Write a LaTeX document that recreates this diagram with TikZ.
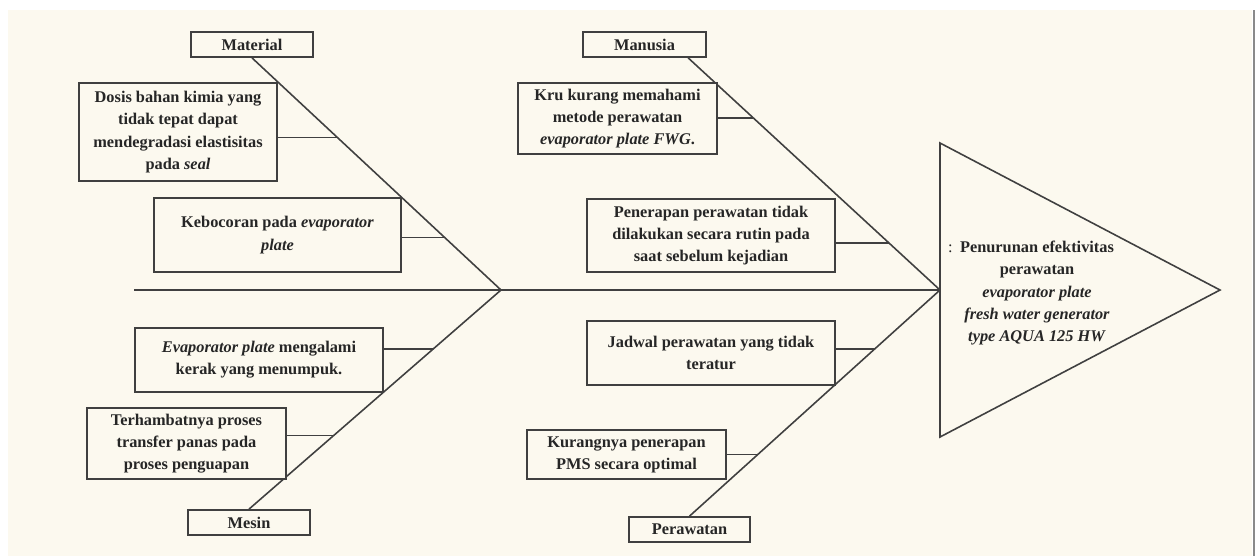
\documentclass[tikz,border=0pt]{standalone}
\usepackage{fontspec}
\setmainfont{Liberation Serif}
\usetikzlibrary{calc}
\definecolor{bgcream}{RGB}{252,249,239}
\definecolor{linegray}{RGB}{64,64,64}
\definecolor{txtgray}{RGB}{38,38,38}
\definecolor{edgegray}{RGB}{138,138,138}
\tikzset{
  cause/.style={draw=linegray,line width=1pt,fill=bgcream,align=center,inner sep=0pt,
    text=txtgray,font=\bfseries\fontsize{9.3}{12.6}\selectfont},
  bone/.style={draw=linegray,line width=0.9pt},
}
\begin{document}
\begin{tikzpicture}[x=0.02cm,y=-0.02cm]
\useasboundingbox (0,0) rectangle (1257,556);
\fill[bgcream] (8,10) rectangle (1252,556);
\draw[edgegray,line width=1.4pt] (1254,10)--(1254,556);

\coordinate (tail) at (134,290);
\coordinate (lj) at (501,290);
\coordinate (rj) at (940,290);
\coordinate (tl) at (940,143);
\coordinate (tip) at (1220,290);
\coordinate (bl) at (940,437);

\draw[bone] (tail)--(rj);
\draw[bone,fill=bgcream] (tl)--(tip)--(bl)--cycle;
\node[align=center,text=txtgray,font=\bfseries\fontsize{9.3}{12.6}\selectfont] (effect) at (1037,293)
  {\llap{\mdseries:\hspace{0.15cm}}Penurunan efektivitas\\ perawatan\\ \textit{evaporator plate}\\
   \textit{fresh water generator}\\ \textit{type AQUA 125 HW}};

\node[cause,minimum width=2.44cm,minimum height=0.5cm] (material) at (252,44.5) {Material};
\node[cause,minimum width=2.44cm,minimum height=0.5cm] (mesin) at (249,522.5) {Mesin};
\node[cause,minimum width=2.46cm,minimum height=0.5cm] (manusia) at (644.5,44.5) {Manusia};
\node[cause,minimum width=2.42cm,minimum height=0.5cm] (perawatan) at (689.5,529.5) {Perawatan};

\coordinate (mtop) at ($(manusia.south west)!0.85!(manusia.south east)$);
\draw[bone] (material.south)--(lj);
\draw[bone] (mesin.north)--(lj);
\draw[bone] (mtop)--(rj);
\draw[bone] (perawatan.north)--(rj);

\node[cause,minimum width=3.96cm,minimum height=1.96cm] (dosis) at (178,132)
  {Dosis bahan kimia yang\\ tidak tepat dapat\\ mendegradasi elastisitas\\ pada \textit{seal}};
\node[cause,minimum width=4.94cm,minimum height=1.48cm] (bocor) at (277.5,235)
  {Kebocoran pada \textit{evaporator}\\ \textit{plate}};
\node[cause,minimum width=4.96cm,minimum height=1.28cm] (kerak) at (259,360)
  {\textit{Evaporator plate} mengalami\\ kerak yang menumpuk.};
\node[cause,minimum width=3.98cm,minimum height=1.42cm] (hambat) at (186.5,443.5)
  {Terhambatnya proses\\ transfer panas pada\\ proses penguapan};
\node[cause,minimum width=3.98cm,minimum height=1.42cm] (kru) at (617.5,118.5)
  {Kru kurang memahami\\ metode perawatan\\ \textit{evaporator plate FWG}.};
\node[cause,minimum width=4.96cm,minimum height=1.46cm] (terap) at (711,235.5)
  {Penerapan perawatan tidak\\ dilakukan secara rutin pada\\ saat sebelum kejadian};
\node[cause,minimum width=4.96cm,minimum height=1.28cm] (jadwal) at (711,353)
  {Jadwal perawatan yang tidak\\ teratur};
\node[cause,minimum width=3.98cm,minimum height=0.98cm] (pms) at (626.5,454.5)
  {Kurangnya penerapan\\ PMS secara optimal};

\coordinate (c1) at ($(material.south)!0.343!(lj)$);
\coordinate (c2) at ($(material.south)!0.773!(lj)$);
\coordinate (c3) at ($(lj)!0.268!(mesin.north)$);
\coordinate (c4) at ($(lj)!0.664!(mesin.north)$);
\coordinate (c5) at ($(mtop)!0.258!(rj)$);
\coordinate (c6) at ($(mtop)!0.798!(rj)$);
\coordinate (c7) at ($(rj)!0.26!(perawatan.north)$);
\coordinate (c8) at ($(rj)!0.727!(perawatan.north)$);
\draw[bone] (c1)--(c1 -| dosis.east);
\draw[bone] (c2)--(c2 -| bocor.east);
\draw[bone] (c3)--(c3 -| kerak.east);
\draw[bone] (c4)--(c4 -| hambat.east);
\draw[bone] (c5)--(c5 -| kru.east);
\draw[bone] (c6)--(c6 -| terap.east);
\draw[bone] (c7)--(c7 -| jadwal.east);
\draw[bone] (c8)--(c8 -| pms.east);
\end{tikzpicture}
\end{document}
